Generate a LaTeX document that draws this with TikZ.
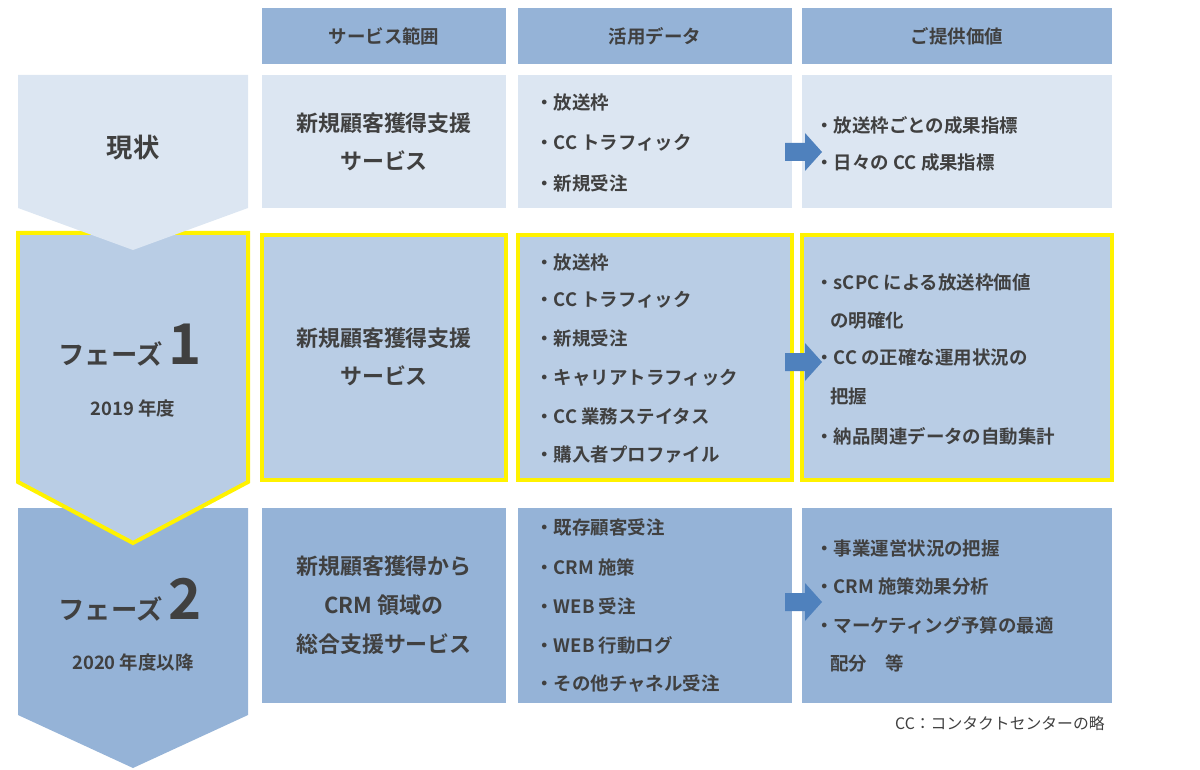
\documentclass[tikz,border=0pt]{standalone}
\usepackage{fontspec}
\setmainfont{Noto Sans CJK JP}[BoldFont={Noto Sans CJK JP Bold}]
\definecolor{hdr}{HTML}{95B3D7}
\definecolor{lite}{HTML}{DCE6F2}
\definecolor{mid}{HTML}{B9CDE5}
\definecolor{dark}{HTML}{95B3D7}
\definecolor{txt}{HTML}{404040}
\definecolor{arr}{HTML}{4F81BD}
\tikzset{
  hl/.style={draw=yellow, line width=0.08cm},
  item/.style={anchor=west, inner sep=0pt, font=\bfseries\fontsize{10.5}{12}\selectfont, text=txt},
  ctr/.style={align=center, inner sep=0pt, font=\bfseries\fontsize{10.5}{20}\selectfont, text=txt},
  big/.style={ctr, font=\bfseries\fontsize{12.5}{22}\selectfont},
  goarrow/.style={fill=arr}
}
\newcommand{\blockarrow}[1]{\fill[goarrow] (785,#1-9) -- (805,#1-9) -- (805,#1-19) -- (822,#1) -- (805,#1+19) -- (805,#1+9) -- (785,#1+9) -- cycle;}
\begin{document}
\begin{tikzpicture}[x=0.02cm, y=-0.02cm]
	\useasboundingbox (0,0) rectangle (1200,770);
	% header row
	\fill[hdr] (262,8) rectangle (506,64) node[ctr, midway] (h1) {サービス範囲};
	\fill[hdr] (518,8) rectangle (792,64) node[ctr, midway] (h2) {活用データ};
	\fill[hdr] (802,8) rectangle (1112,64) node[ctr, midway] (h3) {ご提供価値};
	% chevrons
	\fill[dark] (18,508) -- (248,508) -- (248,715) -- (133,768) -- (18,715) -- cycle;
	\filldraw[fill=mid, hl] (18,233) -- (248,233) -- (248,482) -- (133,543) -- (18,482) -- cycle;
	\fill[lite] (18,75) -- (248,75) -- (248,208) -- (133,250) -- (18,208) -- cycle;
	\node[ctr, font=\bfseries\fontsize{15}{18}\selectfont] (p0) at (133,148) {現状};
	\node[ctr, font=\bfseries\fontsize{15}{18}\selectfont] (p1) at (130,345) {フェーズ \fontsize{32}{32}\selectfont 1};
	\node[ctr] (y1) at (133,408) {2019 年度};
	\node[ctr, font=\bfseries\fontsize{15}{18}\selectfont] (p2) at (130,600) {フェーズ \fontsize{32}{32}\selectfont 2};
	\node[ctr] (y2) at (133,662) {2020 年度以降};
	% row 1
	\fill[lite] (262,75) rectangle (506,208);
	\fill[lite] (518,75) rectangle (792,208);
	\fill[lite] (802,75) rectangle (1112,208);
	\node[big] (s0) at (384,142) {新規顧客獲得支援\\サービス};
	\node[item] (d01) at (535,103) {・放送枠};
	\node[item] (d02) at (535,143) {・CC トラフィック};
	\node[item] (d03) at (535,183) {・新規受注};
	\node[item] (v01) at (815,125) {・放送枠ごとの成果指標};
	\node[item] (v02) at (815,163) {・日々の CC 成果指標};
	% row 2
	\filldraw[fill=mid, hl] (262,235) rectangle (506,480);
	\filldraw[fill=mid, hl] (518,235) rectangle (792,480);
	\filldraw[fill=mid, hl] (802,235) rectangle (1112,480);
	\node[big] (s1) at (384,357) {新規顧客獲得支援\\サービス};
	\node[item] (d11) at (535,263) {・放送枠};
	\node[item] (d12) at (535,300) {・CC トラフィック};
	\node[item] (d13) at (535,338) {・新規受注};
	\node[item] (d14) at (535,378) {・キャリアトラフィック};
	\node[item] (d15) at (535,416) {・CC 業務ステイタス};
	\node[item] (d16) at (535,455) {・購入者プロファイル};
	\node[item] (v11) at (815,283) {・sCPC による放送枠価値};
	\node[item] (v12) at (830,321) {の明確化};
	\node[item] (v13) at (815,358) {・CC の正確な運用状況の};
	\node[item] (v14) at (830,396) {把握};
	\node[item] (v15) at (815,436) {・納品関連データの自動集計};
	% row 3
	\fill[dark] (262,508) rectangle (506,703);
	\fill[dark] (518,508) rectangle (792,703);
	\fill[dark] (802,508) rectangle (1112,703);
	\node[big] (s2) at (384,605) {新規顧客獲得から\\CRM 領域の\\総合支援サービス};
	\node[item] (d21) at (535,527) {・既存顧客受注};
	\node[item] (d22) at (535,567) {・CRM 施策};
	\node[item] (d23) at (535,606) {・WEB 受注};
	\node[item] (d24) at (535,645) {・WEB 行動ログ};
	\node[item] (d25) at (535,684) {・その他チャネル受注};
	\node[item] (v21) at (815,548) {・事業運営状況の把握};
	\node[item] (v22) at (815,586) {・CRM 施策効果分析};
	\node[item] (v23) at (815,625) {・マーケティング予算の最適};
	\node[item] (v24) at (830,663) {配分\quad 等};
	% arrows
	\blockarrow{152}
	\blockarrow{362}
	\blockarrow{602}
	% note
	\node[item, font=\fontsize{9}{10}\selectfont, anchor=east] (note) at (1105,723) {CC：コンタクトセンターの略};
\end{tikzpicture}
\end{document}
